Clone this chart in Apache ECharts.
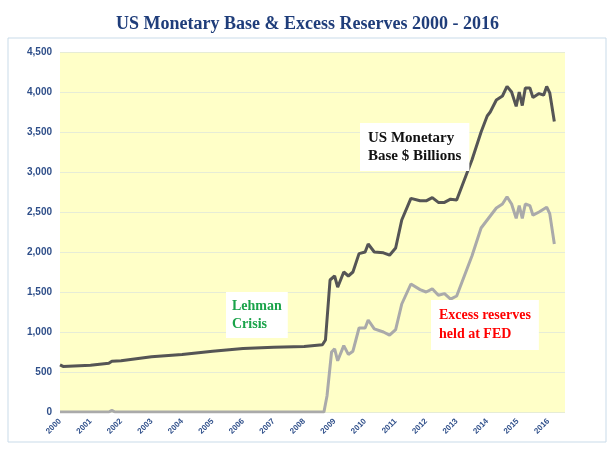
<!DOCTYPE html>
<html><head><meta charset="utf-8">
<script src="https://cdn.jsdelivr.net/npm/echarts@6/dist/echarts.min.js"></script>
<style>html,body{margin:0;background:#fff}#c{width:615px;height:451px}</style>
</head><body><div id="c"></div>
<script>
var baseYears = [2000,2000.1,2001,2001.6,2001.7,2002,2003,2004,2005,2006,2007,2008,2008.6,2008.7,2008.85,2009.0,2009.1,2009.3,2009.45,2009.6,2009.8,2010,2010.1,2010.3,2010.6,2010.8,2011,2011.2,2011.5,2011.8,2012,2012.2,2012.4,2012.6,2012.8,2013,2013.1,2013.5,2013.8,2014,2014.1,2014.3,2014.5,2014.65,2014.8,2014.95,2015.05,2015.15,2015.25,2015.4,2015.5,2015.7,2015.85,2015.95,2016.05,2016.2];
var baseValues = [590,570,585,610,635,640,690,720,760,795,810,820,840,900,1650,1700,1560,1750,1700,1750,1980,2000,2100,2000,1990,1960,2050,2400,2670,2640,2640,2680,2620,2620,2660,2650,2750,3150,3500,3700,3750,3900,3950,4070,4000,3820,4000,3830,4050,4050,3930,3980,3960,4070,3990,3630];
var excessYears = [2000,2001.6,2001.7,2001.8,2008.65,2008.75,2008.9,2009.0,2009.1,2009.3,2009.45,2009.6,2009.8,2010,2010.1,2010.3,2010.6,2010.8,2011,2011.2,2011.5,2011.8,2012,2012.2,2012.4,2012.6,2012.8,2013,2013.2,2013.5,2013.8,2014,2014.3,2014.5,2014.65,2014.8,2014.95,2015.05,2015.15,2015.25,2015.4,2015.5,2015.7,2015.95,2016.05,2016.2];
var excessValues = [0,0,20,0,0,200,750,790,640,830,720,760,1050,1050,1150,1040,1000,960,1030,1350,1600,1530,1500,1540,1460,1480,1410,1450,1650,1950,2300,2400,2550,2600,2690,2600,2420,2580,2420,2600,2580,2460,2500,2560,2480,2100];

function pairs(xs, ys) { return xs.map(function (x, i) { return [x, ys[i]]; }); }

var chart = echarts.init(document.getElementById('c'));
chart.setOption({
  animation: false,
  title: {
    text: 'US Monetary Base & Excess Reserves 2000 - 2016', left: 'center', top: 10,
    textStyle: { fontFamily: 'Liberation Serif', fontSize: 18, fontWeight: 'bold', color: '#1f3d7a' }
  },
  graphic: [
    { type: 'rect', shape: { x: 8, y: 38, width: 598, height: 404 }, style: { fill: 'none', stroke: '#c9dbe9', lineWidth: 1 }, z: -1 },
    { type: 'text', left: 360, top: 123, z: 100, style: { text: 'US Monetary\nBase $ Billions', font: 'bold 15px Liberation Serif', fill: '#111', backgroundColor: '#fff', padding: [6, 8], lineHeight: 18 } },
    { type: 'text', left: 226, top: 292, z: 100, style: { text: 'Lehman\nCrisis', font: 'bold 14px Liberation Serif', fill: '#1aa34a', backgroundColor: '#fff', padding: [5, 6], lineHeight: 18 } },
    { type: 'text', left: 431, top: 300, z: 100, style: { text: 'Excess reserves\nheld at FED', font: 'bold 14px Liberation Serif', fill: '#ff0000', backgroundColor: '#fff', padding: [6, 8], lineHeight: 19 } }
  ],
  grid: { left: 60, right: 50, top: 52, bottom: 39, backgroundColor: '#ffffc8', show: true, borderWidth: 0 },
  xAxis: {
    type: 'value', min: 2000, max: 2016.55, interval: 1,
    axisLine: { show: false }, axisTick: { show: false }, splitLine: { show: false },
    axisLabel: { rotate: 45, fontSize: 8, fontWeight: 'bold', color: '#2f4f8a', formatter: function (v) { return v % 1 === 0 ? String(v) : ''; }, showMaxLabel: false }
  },
  yAxis: {
    type: 'value', min: 0, max: 4500, interval: 500,
    axisLine: { show: false }, axisTick: { show: false },
    splitLine: { lineStyle: { color: '#e6ecd6' } },
    axisLabel: { fontSize: 10, fontWeight: 'bold', color: '#2f4f8a', formatter: function (v) { return v.toLocaleString('en-US'); } }
  },
  series: [
    { type: 'line', data: pairs(baseYears, baseValues), showSymbol: false, lineStyle: { color: '#555', width: 3 } },
    { type: 'line', data: pairs(excessYears, excessValues), showSymbol: false, lineStyle: { color: '#aaa', width: 3 } }
  ]
});
</script></body></html>
